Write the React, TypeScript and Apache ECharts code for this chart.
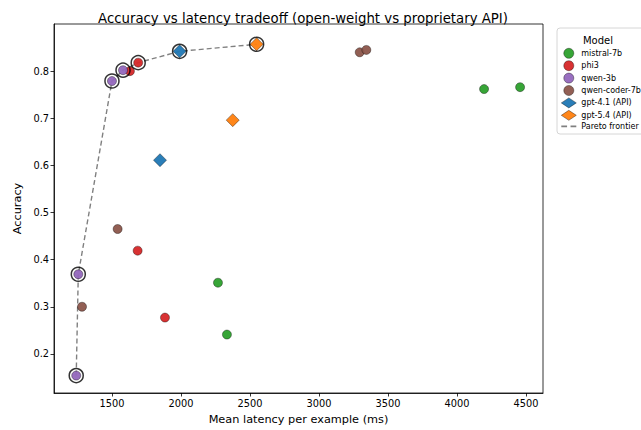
import React, { useEffect, useRef } from "react";
import * as echarts from "echarts";

const mistralLatency = [4196, 4457, 2268, 2333];
const mistralAcc = [0.762, 0.766, 0.351, 0.241];
const phi3Latency = [1686, 1884, 1690, 1630];
const phi3Acc = [0.419, 0.277, 0.818, 0.8];
const qwen3bLatency = [1500, 1580, 1256, 1241];
const qwen3bAcc = [0.779, 0.802, 0.369, 0.154];
const qwenCoderLatency = [1541, 1283, 3295, 3343];
const qwenCoderAcc = [0.465, 0.3, 0.84, 0.845];
const gpt41Latency = [1990, 1848];
const gpt41Acc = [0.842, 0.611];
const gpt54Latency = [2548, 2375];
const gpt54Acc = [0.857, 0.696];
const paretoLatency = [1241, 1256, 1500, 1580, 1690, 1990, 2548];
const paretoAcc = [0.154, 0.369, 0.779, 0.802, 0.818, 0.842, 0.857];

const xTicks = [1500, 2000, 2500, 3000, 3500, 4000, 4500];
const yTicks = [0.2, 0.3, 0.4, 0.5, 0.6, 0.7, 0.8];

const zip = (a: number[], b: number[]) => a.map((v, i) => [v, b[i]]);
const FONT = "DejaVu Sans";

export default function App() {
  const ref = useRef<HTMLDivElement>(null);
  useEffect(() => {
    const chart = echarts.init(ref.current!, null, { renderer: "svg" });
    const edge = { borderColor: "rgba(0,0,0,0.65)", borderWidth: 0.6 };
    const scatter = (name: string, lat: number[], acc: number[], color: string, symbol: string, size: number) => ({
      name,
      type: "scatter",
      data: zip(lat, acc),
      symbol,
      symbolSize: size,
      itemStyle: { color, opacity: 0.95, ...edge },
      z: 3,
    });
    chart.setOption({
      animation: false,
      title: {
        text: "Accuracy vs latency tradeoff (open-weight vs proprietary API)",
        left: 298,
        textAlign: "center",
        top: 7,
        textStyle: { fontFamily: FONT, fontSize: 13.3, fontWeight: "normal", color: "#000" },
      },
      grid: {
        left: 54,
        right: 98,
        top: 24,
        bottom: 37,
        show: true,
        borderColor: "#000",
        borderWidth: 0.8,
      },
      xAxis: {
        type: "value",
        min: 1080,
        max: 4623,
        name: "Mean latency per example (ms)",
        nameLocation: "middle",
        nameGap: 21,
        nameTextStyle: { fontFamily: FONT, fontSize: 11.3, color: "#000" },
        axisLine: { show: true, lineStyle: { color: "#000", width: 0.8 } },
        axisTick: { show: true, customValues: xTicks, length: 3.5, lineStyle: { color: "#000", width: 0.8 } },
        axisLabel: {
          customValues: xTicks,
          fontFamily: FONT,
          fontSize: 9.8,
          color: "#000",
          margin: 5,
          formatter: (v: number) => String(v),
        },
        splitLine: { show: false },
      },
      yAxis: {
        type: "value",
        min: 0.117,
        max: 0.9,
        name: "Accuracy",
        nameLocation: "middle",
        nameGap: 31,
        nameTextStyle: { fontFamily: FONT, fontSize: 11.3, color: "#000" },
        axisLine: { show: true, lineStyle: { color: "#000", width: 0.8 } },
        axisTick: { show: true, customValues: yTicks, length: 3.5, lineStyle: { color: "#000", width: 0.8 } },
        axisLabel: {
          customValues: yTicks,
          fontFamily: FONT,
          fontSize: 9.8,
          color: "#000",
          margin: 5,
          formatter: (v: number) => v.toFixed(1),
        },
        splitLine: { show: false },
      },
      legend: {
        orient: "vertical",
        left: 561,
        top: 48,
        itemWidth: 15,
        itemHeight: 10,
        itemGap: 1.8,
        padding: 0,
        itemStyle: { borderWidth: 0.6, borderColor: "rgba(0,0,0,0.65)" },
        textStyle: { fontFamily: FONT, fontSize: 8, color: "#000" },
        data: [
          "mistral-7b",
          "phi3",
          "qwen-3b",
          "qwen-coder-7b",
          "gpt-4.1 (API)",
          "gpt-5.4 (API)",
          {
            name: "Pareto frontier",
            icon: "path://M0,0 L5,0 L5,1.4 L0,1.4 Z M8,0 L13,0 L13,1.4 L8,1.4 Z",
            itemStyle: { color: "#808080", borderWidth: 0 },
          },
        ],
      },
      graphic: [
        {
          type: "rect",
          shape: { x: 557, y: 28, width: 110, height: 106, r: 3 },
          style: { fill: "rgba(255,255,255,0.8)", stroke: "#cccccc", lineWidth: 0.8 },
          z: -1,
        },
        {
          type: "text",
          x: 598,
          y: 40,
          style: { text: "Model", fontFamily: FONT, fontSize: 10, fill: "#000", align: "center", verticalAlign: "middle" },
        },
      ],
      series: [
        {
          name: "Pareto frontier",
          type: "line",
          data: zip(paretoLatency, paretoAcc),
          symbol: "none",
          lineStyle: { color: "#808080", width: 1.4, type: [5, 3] },
          itemStyle: { color: "#808080" },
          z: 2,
        },
        scatter("mistral-7b", mistralLatency, mistralAcc, "#2ca02c", "circle", 9),
        scatter("phi3", phi3Latency, phi3Acc, "#d62728", "circle", 9),
        scatter("qwen-3b", qwen3bLatency, qwen3bAcc, "#9467bd", "circle", 9),
        scatter("qwen-coder-7b", qwenCoderLatency, qwenCoderAcc, "#8c564b", "circle", 9),
        scatter("gpt-4.1 (API)", gpt41Latency, gpt41Acc, "#1f77b4", "diamond", 13),
        scatter("gpt-5.4 (API)", gpt54Latency, gpt54Acc, "#ff7f0e", "diamond", 13),
        {
          name: "frontier-ring",
          type: "scatter",
          data: zip(paretoLatency, paretoAcc),
          symbol: "circle",
          symbolSize: 14,
          itemStyle: { color: "rgba(0,0,0,0)", borderColor: "#000", borderWidth: 1.5 },
          z: 4,
          silent: true,
        },
      ],
    });
    return () => chart.dispose();
  }, []);
  return <div ref={ref} style={{ width: 641, height: 430, position: "absolute", left: 0, top: 0 }} />;
}
